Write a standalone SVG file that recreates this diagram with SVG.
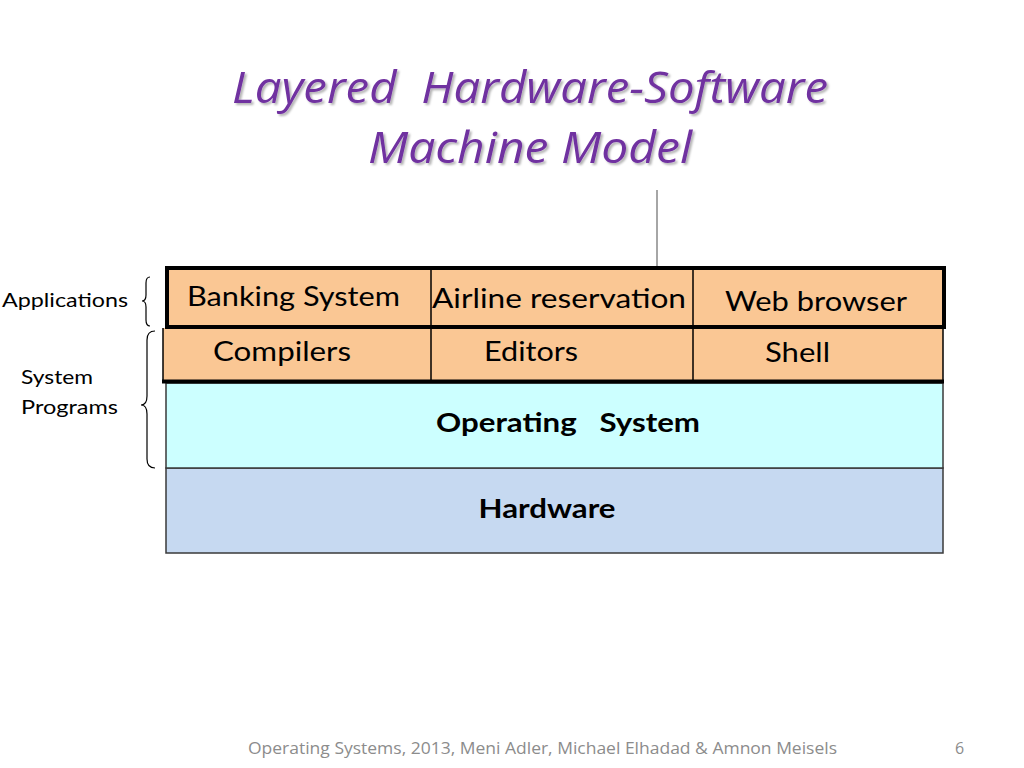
<svg xmlns="http://www.w3.org/2000/svg" width="1024" height="768" viewBox="0 0 1024 768">
<defs>
<filter id="sh" x="-5%" y="-20%" width="110%" height="140%">
<feDropShadow dx="2" dy="2" stdDeviation="1.2" flood-color="#000" flood-opacity="0.3"/>
</filter>
</defs>
<style>
.cell{fill:#FAC794;}
.lbl{font-family:Lato,"Open Sans","Liberation Sans",sans-serif;font-size:27px;fill:#000;}
.bold{font-family:Lato,"Open Sans","Liberation Sans",sans-serif;font-size:27px;font-weight:bold;fill:#000;}
.side{font-family:Lato,"Open Sans","Liberation Sans",sans-serif;font-size:20px;fill:#000;}
.title{font-family:"Open Sans",Lato,"Liberation Sans",sans-serif;font-size:44px;font-style:italic;fill:#7030A0;}
.foot{font-family:"Open Sans",Lato,"Liberation Sans",sans-serif;font-size:16px;fill:#8C8C8C;}
.thin{stroke:#000;stroke-width:1.5;fill:none;}
.thick{stroke:#000;stroke-width:4;fill:none;}
.brace{stroke:#000;stroke-width:1.2;fill:none;}
</style>
<rect width="1024" height="768" fill="#fff"/>
<g id="title" filter="url(#sh)">
<text class="title" x="530" y="103" text-anchor="middle" textLength="596" lengthAdjust="spacingAndGlyphs" xml:space="preserve">Layered  Hardware-Software</text>
<text class="title" x="530" y="163" text-anchor="middle" textLength="324" lengthAdjust="spacingAndGlyphs">Machine Model</text>
</g>
<g id="connectors">
<line x1="657" y1="190" x2="657" y2="269" stroke="#888" stroke-width="1.5"/>
</g>
<g id="hardware">
<rect x="166" y="468" width="777" height="85" fill="#C6D9F1" stroke="#3a3a3a" stroke-width="1.5"/>
<text class="bold" x="547" y="518" text-anchor="middle" textLength="137" lengthAdjust="spacingAndGlyphs">Hardware</text>
</g>
<g id="os">
<rect x="166" y="383" width="777" height="85" fill="#CCFFFF" stroke="#3a3a3a" stroke-width="1.5"/>
<text class="bold" x="568" y="432" text-anchor="middle" textLength="264" lengthAdjust="spacingAndGlyphs" xml:space="preserve">Operating   System</text>
</g>
<g id="system-programs">
<rect class="cell" x="163" y="328" width="780" height="53"/>
<line class="thin" x1="163" y1="328" x2="163" y2="382"/>
<line class="thin" x1="943" y1="328" x2="943" y2="382"/>
<line class="thin" x1="431" y1="328" x2="431" y2="381"/>
<line class="thin" x1="693" y1="328" x2="693" y2="381"/>
<line class="thick" x1="162" y1="381.5" x2="944" y2="381.5"/>
<text class="lbl" x="213" y="361" textLength="138" lengthAdjust="spacingAndGlyphs">Compilers</text>
<text class="lbl" x="484" y="361" textLength="94" lengthAdjust="spacingAndGlyphs">Editors</text>
<text class="lbl" x="765" y="362" textLength="65" lengthAdjust="spacingAndGlyphs">Shell</text>
</g>
<g id="applications">
<rect class="cell" x="167" y="268" width="777" height="59"/>
<rect class="thick" x="167" y="268" width="777" height="59"/>
<line class="thin" x1="431" y1="268" x2="431" y2="327"/>
<line class="thin" x1="693" y1="268" x2="693" y2="327"/>
<text class="lbl" x="187" y="306" textLength="213" lengthAdjust="spacingAndGlyphs">Banking System</text>
<text class="lbl" x="432" y="308" textLength="254" lengthAdjust="spacingAndGlyphs">Airline reservation</text>
<text class="lbl" x="725" y="311" textLength="182" lengthAdjust="spacingAndGlyphs">Web browser</text>
</g>
<g id="label-applications">
<text class="side" x="2" y="307" textLength="126" lengthAdjust="spacingAndGlyphs">Applications</text>
<path class="brace" d="M150,277 Q146,277 146,283 L146,295 Q146,301 142,301 Q146,301 146,307 L146,320 Q146,326 150,326"/>
</g>
<g id="label-system-programs">
<text class="side" x="21" y="384" textLength="72" lengthAdjust="spacingAndGlyphs">System</text>
<text class="side" x="21" y="414" textLength="97" lengthAdjust="spacingAndGlyphs">Programs</text>
<path class="brace" d="M155,331 Q147,331 147,340 L147,396 Q147,405 141,405 Q147,405 147,414 L147,459 Q147,468 155,468"/>
</g>
<g id="footer">
<text class="foot" x="248" y="754" textLength="589" lengthAdjust="spacingAndGlyphs">Operating Systems, 2013, Meni Adler, Michael Elhadad &amp; Amnon Meisels</text>
<text class="foot" x="955" y="754">6</text>
</g>
</svg>
